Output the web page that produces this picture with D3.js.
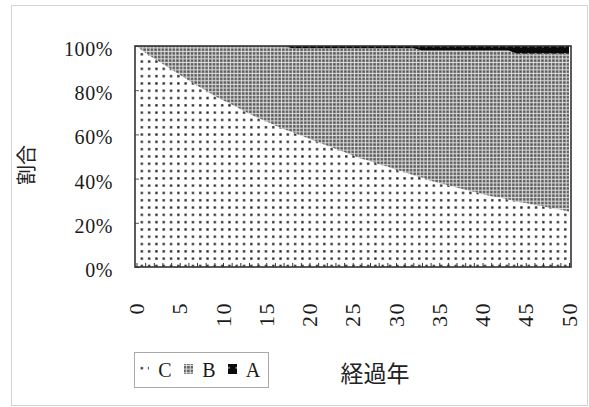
<!DOCTYPE html>
<html>
<head>
<meta charset="utf-8">
<script src="https://cdn.jsdelivr.net/npm/d3@7"></script>
<style>
  body { margin: 0; background: #fff; }
  svg { display: block; }
  .num { font-family: "Liberation Serif", "DejaVu Serif", serif; fill: #1a1a1a; }
  .jp { font-family: "Noto Sans CJK JP", sans-serif; fill: #222; }
</style>
</head>
<body>
<div id="chart"></div>
<script>
// years on the category axis
var years = d3.range(0, 51);

// share of C (bottom band), in percent, read per year
var seriesC = [100, 97, 94.5, 92, 89.5, 87, 84.5, 82, 80, 77.5,
  75.5, 73.5, 71.5, 69.5, 67.5, 66, 64, 62.5, 61, 59.5,
  58, 56.5, 55, 53.5, 52, 50.5, 49, 48, 46.5, 45.5,
  44, 43, 41.5, 40.5, 39, 38, 37, 36, 35, 34,
  33, 32, 31.5, 30.5, 29.5, 29, 28, 27.5, 26.5, 26, 25];

// share of A (thin black band on top), in percent
var seriesA = [0, 0, 0, 0, 0, 0, 0, 0, 0, 0,
  0, 0, 0, 0, 0, 0, 0, 0, 1, 1,
  1, 1, 1, 1, 1, 1, 1, 1, 1, 1,
  1, 1, 1, 2, 2, 2, 2, 2, 2, 2,
  2, 2, 2, 2, 3.5, 3.5, 3.5, 3.5, 3.5, 3.5, 3.5];

// B is what is left
var seriesB = seriesC.map(function(c, i) { return 100 - c - seriesA[i]; });

var seriesNames = ["C", "B", "A"];
var xTickLabels = [0, 5, 10, 15, 20, 25, 30, 35, 40, 45, 50];
var yTickLabels = ["0%", "20%", "40%", "60%", "80%", "100%"];

var width = 589, height = 407;
var plotLeft = 135, plotRight = 571, plotTop = 46, plotBottom = 267;

var table = years.map(function(yr, i) {
  return {year: yr, C: seriesC[i], B: seriesB[i], A: seriesA[i]};
});

var stack = d3.stack().keys(seriesNames).offset(d3.stackOffsetExpand);
var layers = stack(table);

var x = d3.scaleLinear().domain([0, 50]).range([plotLeft + 1.5, plotRight - 2]);
var y = d3.scaleLinear().domain([0, 1]).range([plotBottom, plotTop]);

var svg = d3.select("#chart").append("svg")
  .attr("width", width)
  .attr("height", height);

// hatch patterns like the printed original
var defs = svg.append("defs");

var pC = defs.append("pattern").attr("id", "patC")
  .attr("patternUnits", "userSpaceOnUse")
  .attr("width", 7.3).attr("height", 7.3);
pC.append("rect").attr("width", 7.3).attr("height", 7.3).attr("fill", "#fff");
pC.append("rect").attr("x", 2).attr("y", 2).attr("width", 2.3).attr("height", 2.3).attr("fill", "#222");

var pB = defs.append("pattern").attr("id", "patB")
  .attr("patternUnits", "userSpaceOnUse")
  .attr("width", 3.65).attr("height", 3.65);
pB.append("rect").attr("width", 3.65).attr("height", 3.65).attr("fill", "#e4e4e4");
pB.append("rect").attr("x", 0.8).attr("y", 0.8).attr("width", 2.85).attr("height", 2.85).attr("fill", "#7c7c7c");
pB.append("rect").attr("x", 1.5).attr("y", 1.5).attr("width", 1.4).attr("height", 1.4).attr("fill", "#4a4a4a");

var pA = defs.append("pattern").attr("id", "patA")
  .attr("patternUnits", "userSpaceOnUse")
  .attr("width", 7.3).attr("height", 7.3);
pA.append("rect").attr("width", 7.3).attr("height", 7.3).attr("fill", "#0a0a0a");
pA.append("rect").attr("x", 2).attr("y", 2).attr("width", 1.5).attr("height", 1.5).attr("fill", "#bbb");

var fills = {C: "url(#patC)", B: "url(#patB)", A: "url(#patA)"};

// light outer frame
svg.append("rect")
  .attr("x", 11.5).attr("y", 5.5)
  .attr("width", 576).attr("height", 400)
  .attr("fill", "none")
  .attr("stroke", "#d4d4d4");

var area = d3.area()
  .x(function(d) { return x(d.data.year); })
  .y0(function(d) { return y(d[0]); })
  .y1(function(d) { return y(d[1]); });

svg.append("g").selectAll("path")
  .data(layers)
  .enter().append("path")
  .attr("d", area)
  .attr("fill", function(d) { return fills[d.key]; });

// small inner ticks, one per year
var xTicks = d3.axisBottom(x).tickValues(years).tickSizeInner(-4).tickSizeOuter(0).tickFormat("");
var gxt = svg.append("g").attr("transform", "translate(0," + plotBottom + ")").call(xTicks);
gxt.select(".domain").remove();
gxt.selectAll("line").attr("stroke", "#333");

var yTicks = d3.axisLeft(y).tickValues([0, 0.2, 0.4, 0.6, 0.8, 1]).tickSizeInner(-4).tickSizeOuter(0).tickFormat("");
var gyt = svg.append("g").attr("transform", "translate(" + plotLeft + ",0)").call(yTicks);
gyt.select(".domain").remove();
gyt.selectAll("line").attr("stroke", "#555");

// plot border
svg.append("rect")
  .attr("x", plotLeft).attr("y", plotTop)
  .attr("width", plotRight - plotLeft).attr("height", plotBottom - plotTop)
  .attr("fill", "none")
  .attr("stroke", "#333")
  .attr("stroke-width", 1.6);

// y tick labels
svg.append("g").selectAll("text")
  .data(yTickLabels)
  .enter().append("text")
  .attr("class", "num")
  .attr("x", 113)
  .attr("y", function(d, i) { return y(i * 0.2) + 3; })
  .attr("text-anchor", "end")
  .attr("dominant-baseline", "central")
  .attr("font-size", 20)
  .attr("letter-spacing", 0.6)
  .text(function(d) { return d; });

// x tick labels, turned on their side
svg.append("g").selectAll("text")
  .data(xTickLabels)
  .enter().append("text")
  .attr("class", "num")
  .attr("x", function(d) { return x(d); })
  .attr("y", 302)
  .attr("transform", function(d) { return "rotate(-90," + x(d) + ",302)"; })
  .attr("text-anchor", "end")
  .attr("dominant-baseline", "central")
  .attr("font-size", 22)
  .attr("letter-spacing", 1.5)
  .text(function(d) { return d; });

// axis titles
svg.append("text")
  .attr("class", "jp")
  .attr("x", 25).attr("y", 165)
  .attr("transform", "rotate(-90,25,165)")
  .attr("text-anchor", "middle")
  .attr("dominant-baseline", "central")
  .attr("font-size", 20)
  .text("割合");

svg.append("text")
  .attr("class", "jp")
  .attr("x", 375).attr("y", 372)
  .attr("text-anchor", "middle")
  .attr("dominant-baseline", "central")
  .attr("font-size", 23)
  .text("経過年");

// legend
var legend = svg.append("g");
legend.append("rect")
  .attr("x", 134.5).attr("y", 352.5)
  .attr("width", 134).attr("height", 35)
  .attr("fill", "#fff")
  .attr("stroke", "#aaa");

var legendX = [140, 184, 228];
seriesNames.forEach(function(name, i) {
  legend.append("rect")
    .attr("x", legendX[i]).attr("y", 364)
    .attr("width", 9).attr("height", 10)
    .attr("fill", fills[name]);
  legend.append("text")
    .attr("class", "num")
    .attr("x", legendX[i] + 25).attr("y", 370)
    .attr("text-anchor", "middle")
    .attr("dominant-baseline", "central")
    .attr("font-size", 20)
    .text(name);
});
</script>
</body>
</html>
